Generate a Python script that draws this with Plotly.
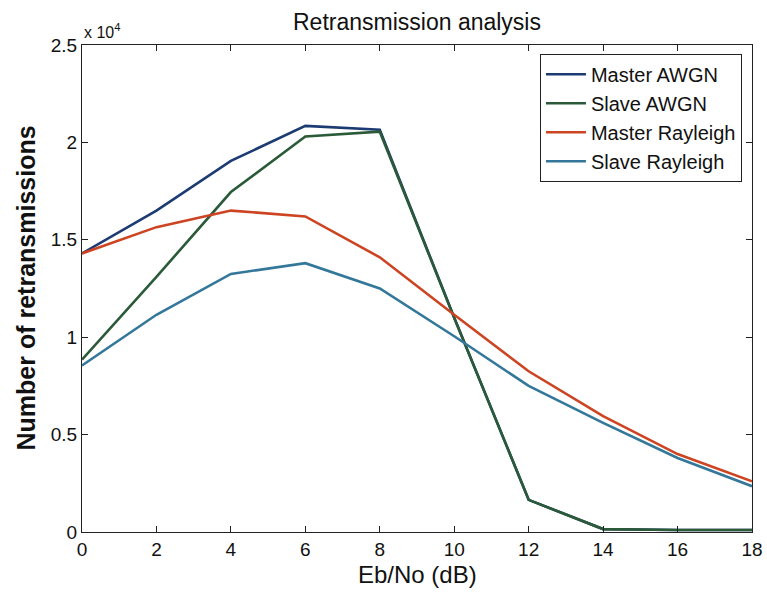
import plotly.graph_objects as go

eb_no = [0, 2, 4, 6, 8, 10, 12, 14, 16, 18]
master_awgn = [14300, 16500, 19050, 20850, 20650, 11000, 1650, 150, 100, 100]
slave_awgn = [8850, 13100, 17450, 20300, 20550, 11000, 1650, 150, 100, 100]
master_rayleigh = [14300, 15650, 16500, 16200, 14100, 11150, 8250, 5950, 4000, 2600]
slave_rayleigh = [8550, 11150, 13250, 13800, 12500, 10050, 7500, 5600, 3800, 2350]

series_names = ["Master AWGN", "Slave AWGN", "Master Rayleigh", "Slave Rayleigh"]
series_colors = ["#1c3b73", "#2b5a38", "#cc4422", "#33779a"]
series_values = [master_awgn, slave_awgn, master_rayleigh, slave_rayleigh]

x_ticks = [0, 2, 4, 6, 8, 10, 12, 14, 16, 18]
y_ticks = [0, 5000, 10000, 15000, 20000, 25000]
y_tick_labels = ["0", "0.5", "1", "1.5", "2", "2.5"]

fig = go.Figure()
for name, color, vals in zip(series_names, series_colors, series_values):
    fig.add_trace(go.Scatter(x=eb_no, y=vals, mode="lines", name=name,
                             line=dict(color=color, width=2.6)))

font = "Liberation Sans, Arial, Helvetica, sans-serif"
fig.update_layout(
    width=767, height=594,
    margin=dict(l=82, r=15, t=45, b=62, autoexpand=False),
    paper_bgcolor="white", plot_bgcolor="white",
    font=dict(family=font, color="#111111", size=19),
    showlegend=True,
    legend=dict(x=0.985, y=0.982, xanchor="right", yanchor="top",
                bgcolor="white", bordercolor="#222222", borderwidth=1,
                font=dict(size=20, family=font), tracegroupgap=0,
                itemwidth=40),
    xaxis=dict(range=[0, 18], tickvals=x_ticks, ticks="inside", ticklen=6,
               tickcolor="#222222", showline=True, linecolor="#222222",
               linewidth=1, mirror="ticks", showgrid=False, zeroline=False,
               tickfont=dict(size=19), automargin=False),
    yaxis=dict(range=[0, 25000], tickvals=y_ticks, ticktext=y_tick_labels,
               ticks="inside", ticklen=6, tickcolor="#222222", showline=True,
               linecolor="#222222", linewidth=1, mirror="ticks",
               showgrid=False, zeroline=False, tickfont=dict(size=19),
               automargin=False),
)
# title
fig.add_annotation(xref="paper", yref="paper", x=0.5, y=1.0, xanchor="center",
                   yanchor="middle", yshift=23, showarrow=False,
                   text="Retransmission analysis", font=dict(size=23, family=font))
# axis titles
fig.add_annotation(xref="paper", yref="paper", x=0.5, y=0.0, xanchor="center",
                   yanchor="middle", yshift=-42, showarrow=False,
                   text="Eb/No (dB)", font=dict(size=24, family=font))
fig.add_annotation(xref="paper", yref="paper", x=0.0, y=0.5, xanchor="center",
                   yanchor="middle", xshift=-57, showarrow=False, textangle=-90,
                   text="<b>Number of retransmissions</b>", font=dict(size=25, family=font))
# exponent
fig.add_annotation(xref="paper", yref="paper", x=0.0, y=1.0, xanchor="left",
                   yanchor="bottom", showarrow=False, yshift=2,
                   text="x 10<sup>4</sup>", font=dict(size=16, family=font))

fig.write_html("out.html", config={"displayModeBar": False},
               post_script="document.body.style.margin='0';document.body.style.overflow='hidden';")
